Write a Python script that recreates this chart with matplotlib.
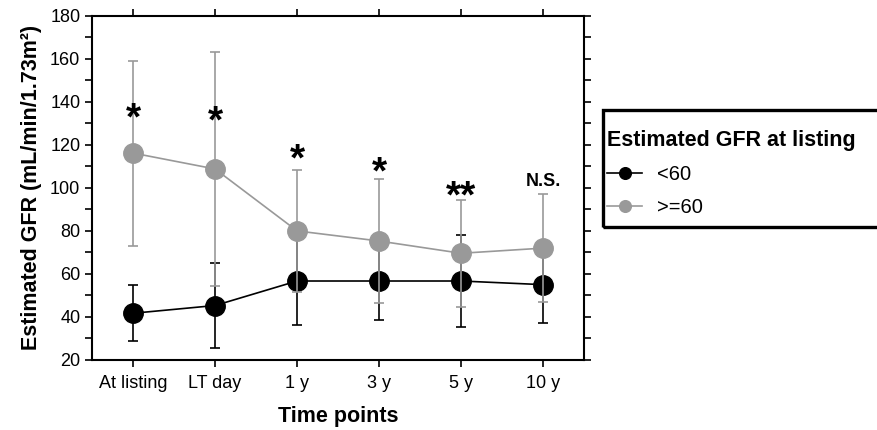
import numpy as np
import matplotlib.pyplot as plt
from matplotlib.ticker import MultipleLocator
from matplotlib.patches import Rectangle

plt.rcParams['font.family'] = ['Liberation Sans', 'DejaVu Sans']

labels = ['At listing', 'LT day', '1 y', '3 y', '5 y', '10 y']
low_mean = [41.7, 45.3, 56.7, 56.7, 56.7, 55.0]
low_sd = [13.0, 19.8, 20.4, 18.1, 21.3, 18.0]
high_mean = [116.2, 108.8, 80.0, 75.3, 69.6, 72.0]
high_sd = [43.0, 54.4, 28.3, 28.8, 24.9, 25.2]
sig = ['*', '*', '*', '*', '**', 'N.S.']
sig_y = [135, 134, 116, 110, 99, 103]   # centre of the annotation

x = np.arange(len(labels))
grey = '#999999'

fig = plt.figure(figsize=(8.77, 4.30), dpi=100)
ax = fig.add_axes([0.105, 0.163, 0.561, 0.8])

ax.errorbar(x, low_mean, yerr=low_sd, fmt='none', ecolor='black',
            elinewidth=1.2, capsize=3.6, capthick=1.2, zorder=2)
l1, = ax.plot(x, low_mean, color='black', marker='o', ms=14, lw=1.2, label='<60', zorder=2.5)
ax.errorbar(x, high_mean, yerr=high_sd, fmt='none', ecolor=grey,
            elinewidth=1.2, capsize=3.6, capthick=1.2, zorder=3)
l2, = ax.plot(x, high_mean, color=grey, marker='o', ms=14, lw=1.2, label='>=60', zorder=3.5)

for xi, s, yi in zip(x, sig, sig_y):
    if s == 'N.S.':
        ax.text(xi, yi, s, ha='center', va='center', fontsize=13, fontweight='bold')
    else:
        # asterisks sit high in the glyph box, so place by baseline
        ax.text(xi, yi - 8, s, ha='center', va='baseline', fontsize=28, fontweight='bold')

ax.set_xlim(-0.5, 5.5)
ax.set_ylim(20, 180)
ax.set_xticks(x)
ax.set_xticklabels(labels, fontsize=13)
ax.yaxis.set_major_locator(MultipleLocator(20))
ax.yaxis.set_minor_locator(MultipleLocator(10))
ax.tick_params(axis='y', labelsize=13, right=True, which='both', direction='out',
               length=5, width=1.2)
ax.tick_params(axis='x', top=True, direction='out', length=5, width=1.2, pad=6)
for sp in ax.spines.values():
    sp.set_linewidth(1.5)

ax.set_ylabel('Estimated GFR (mL/min/1.73m²)', fontsize=15.5, fontweight='bold', labelpad=6)
ax.set_xlabel('Time points', fontsize=15.5, fontweight='bold', labelpad=10)

# legend box runs off the right edge of the figure
fig.patches.append(Rectangle((0.6876, 0.472), 0.4, 0.2722, transform=fig.transFigure,
                             fill=False, edgecolor='black', lw=2.4))
leg = fig.legend(handles=[l1, l2], loc='upper left', bbox_to_anchor=(0.692, 0.698),
                 title='Estimated GFR at listing',
                 title_fontproperties={'weight': 'bold', 'size': 15.5}, fontsize=14.5,
                 alignment='left', frameon=False, handlelength=1.75, handletextpad=0.75,
                 borderpad=0, labelspacing=0.7, markerscale=0.6, borderaxespad=0)

fig.savefig('out.png')
